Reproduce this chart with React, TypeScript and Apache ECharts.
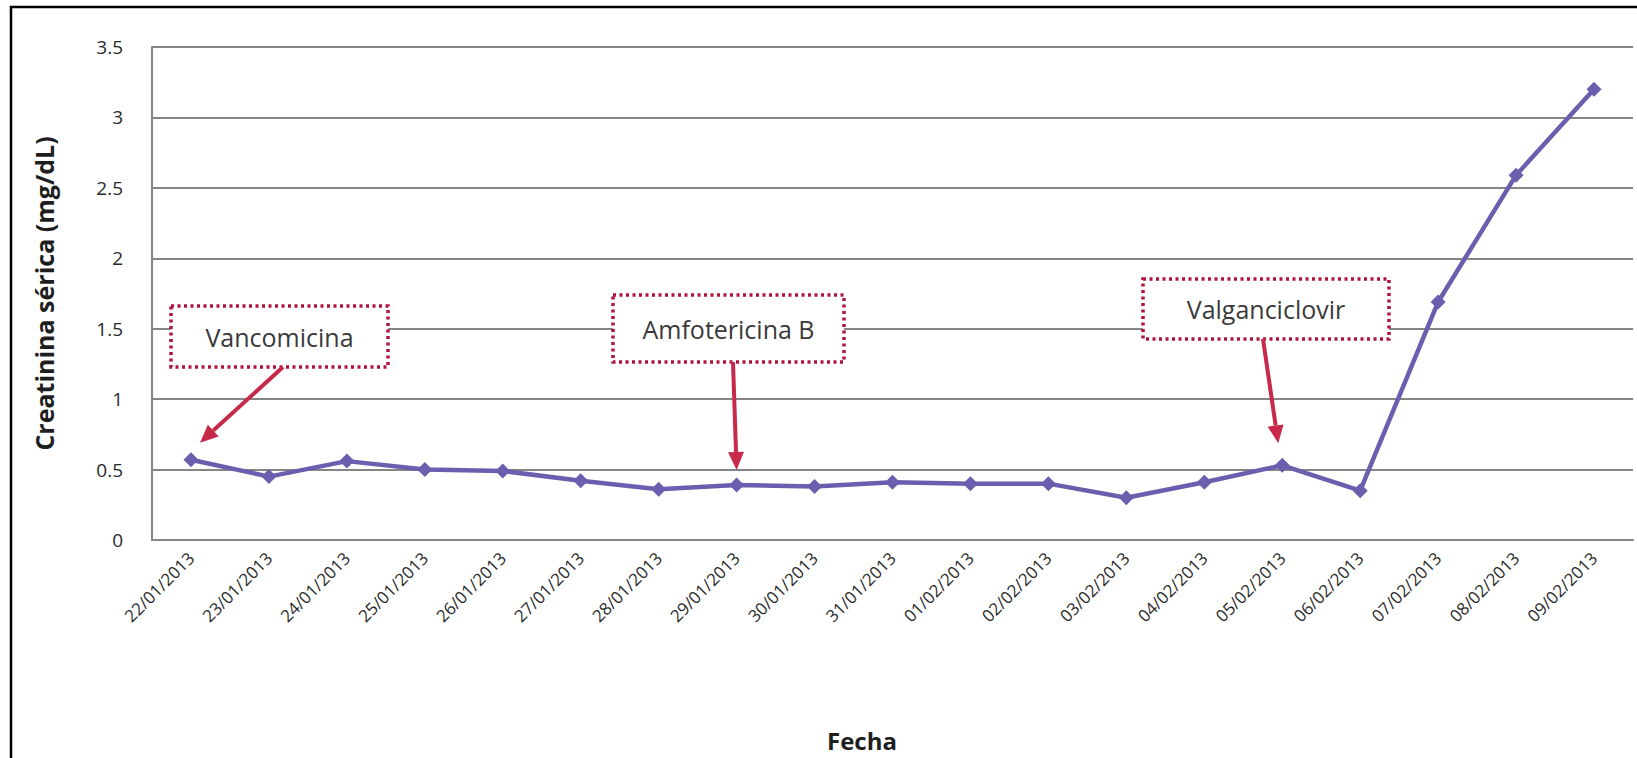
import React, { useEffect, useRef } from "react";
import * as echarts from "echarts";

// Fechas de control
const fechas = [
  "22/01/2013", "23/01/2013", "24/01/2013", "25/01/2013", "26/01/2013",
  "27/01/2013", "28/01/2013", "29/01/2013", "30/01/2013", "31/01/2013",
  "01/02/2013", "02/02/2013", "03/02/2013", "04/02/2013", "05/02/2013",
  "06/02/2013", "07/02/2013", "08/02/2013", "09/02/2013",
];

// Creatinina sérica (mg/dL)
const creatinina = [
  0.57, 0.45, 0.56, 0.5, 0.49, 0.42, 0.36, 0.39, 0.38, 0.41,
  0.4, 0.4, 0.3, 0.41, 0.53, 0.35, 1.69, 2.59, 3.2,
];

// Inicio de cada fármaco: índice de la fecha y nombre
const farmacos = ["Vancomicina", "Amfotericina B", "Valganciclovir"];
const farmacoIndice = [0, 7, 14];

const FONT = "'Open Sans', Lato, sans-serif";
const LINE_COLOR = "#6a5fae";
const RED = "#c8284a";
const BOX_RED = "#b0143c";

export default function App() {
  const ref = useRef<HTMLDivElement>(null);

  useEffect(() => {
    if (!ref.current) return;
    const chart = echarts.init(ref.current, null, { renderer: "svg" });

    chart.setOption({
      animation: false,
      backgroundColor: "#ffffff",
      grid: { left: 152, right: 4, top: 47, bottom: 218, containLabel: false },
      xAxis: {
        type: "category",
        data: fechas,
        boundaryGap: true,
        axisLine: { lineStyle: { color: "#858585", width: 2 } },
        axisTick: { show: false },
        axisLabel: {
          rotate: 45,
          fontFamily: FONT,
          fontSize: 17,
          color: "#2a2a2a",
          margin: 15,
          interval: 0,
        },
      },
      yAxis: {
        type: "value",
        min: 0,
        max: 3.5,
        interval: 0.5,
        name: "Creatinina sérica (mg/dL)",
        nameLocation: "middle",
        nameGap: 96,
        nameTextStyle: {
          fontFamily: FONT,
          fontWeight: "bold",
          fontSize: 25,
          color: "#1e1e1e",
        },
        axisLine: { show: true, lineStyle: { color: "#858585", width: 2 } },
        axisTick: { show: false },
        axisLabel: {
          fontFamily: FONT,
          fontSize: 19,
          color: "#2a2a2a",
          margin: 29,
          formatter: (v: number) => String(v),
        },
        splitLine: { lineStyle: { color: "#858585", width: 2 } },
      },
      series: [
        {
          type: "line",
          data: creatinina,
          symbol: "diamond",
          symbolSize: 15,
          lineStyle: { color: LINE_COLOR, width: 4.5 },
          itemStyle: { color: LINE_COLOR },
        },
      ],
    });

    // Cajas de anotación (posición en píxeles) y flechas hacia el punto de la serie
    const boxes = [
      { x: 171, y: 306, w: 217, h: 61, sx: 283, tipDx: 9, tipDy: -17 },
      { x: 613, y: 295, w: 231, h: 67, sx: 733, tipDx: 0, tipDy: -15 },
      { x: 1143, y: 279, w: 246, h: 60, sx: 1263, tipDx: -4, tipDy: -22 },
    ];

    const graphics: any[] = [];
    // Marco exterior
    graphics.push({
      type: "polyline",
      shape: { points: [[11, 770], [11, 7], [1650, 7]] },
      style: { stroke: "#000", lineWidth: 2.5, fill: null },
      silent: true,
    });
    boxes.forEach((b, i) => {
      const idx = farmacoIndice[i];
      const p = chart.convertToPixel({ seriesIndex: 0 }, [idx, creatinina[idx]]) as number[];
      const tx = p[0] + b.tipDx;
      const ty = p[1] + b.tipDy;
      const sx = b.sx;
      const sy = b.y + b.h;
      const dx = tx - sx;
      const dy = ty - sy;
      const len = Math.sqrt(dx * dx + dy * dy);
      const ux = dx / len;
      const uy = dy / len;
      const headL = 18;
      const headW = 8;
      const bx = tx - ux * headL;
      const by = ty - uy * headL;
      graphics.push({
        type: "rect",
        shape: { x: b.x, y: b.y, width: b.w, height: b.h },
        style: { fill: "#ffffff", stroke: BOX_RED, lineWidth: 3.5, lineDash: [3, 3.5] },
        z: 10,
      });
      graphics.push({
        type: "text",
        x: b.x + b.w / 2,
        y: b.y + b.h / 2,
        style: {
          text: farmacos[i],
          fontFamily: FONT,
          fontSize: 25,
          fill: "#3a3a3a",
          align: "center",
          verticalAlign: "middle",
        },
        z: 11,
      });
      graphics.push({
        type: "line",
        shape: { x1: sx, y1: sy, x2: bx, y2: by },
        style: { stroke: RED, lineWidth: 4 },
        z: 10,
      });
      graphics.push({
        type: "polygon",
        shape: {
          points: [
            [tx, ty],
            [bx - uy * headW, by + ux * headW],
            [bx + uy * headW, by - ux * headW],
          ],
        },
        style: { fill: RED },
        z: 10,
      });
    });
    graphics.push({
      type: "text",
      x: 862,
      y: 740,
      style: {
        text: "Fecha",
        fontFamily: FONT,
        fontWeight: "bold",
        fontSize: 24,
        fill: "#1e1e1e",
        align: "center",
        verticalAlign: "middle",
      },
    });

    chart.setOption({ graphic: graphics });

    return () => chart.dispose();
  }, []);

  return (
    <div
      ref={ref}
      style={{ position: "absolute", left: 0, top: 0, width: 1637, height: 758 }}
    />
  );
}
